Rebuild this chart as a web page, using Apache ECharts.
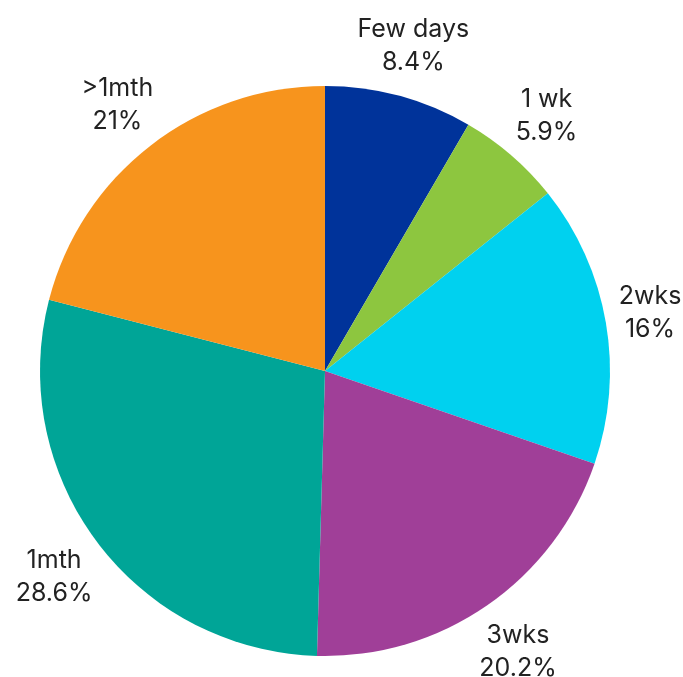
<!DOCTYPE html>
<html>
<head>
<meta charset="utf-8">
<script src="https://cdn.jsdelivr.net/npm/echarts@6/dist/echarts.min.js"></script>
<style>
  html, body { margin: 0; padding: 0; background: #ffffff; }
  #chart { width: 683px; height: 677px; }
</style>
</head>
<body>
<div id="chart"></div>
<script>
// Time taken, share of respondents
const categories = ['Few days', '1 wk', '2wks', '3wks', '1mth', '>1mth'];
const shares = [8.4, 5.9, 16, 20.2, 28.6, 21];
const colors = ['#00339a', '#8dc63f', '#00d1ef', '#a03f98', '#00a597', '#f7941d'];

const data = categories.map((name, i) => ({ name, value: shares[i] }));

const chart = echarts.init(document.getElementById('chart'), null, { renderer: 'canvas' });
chart.setOption({
  animation: false,
  backgroundColor: '#ffffff',
  series: [
    {
      type: 'pie',
      center: [325, 371],
      radius: [0, 285],
      startAngle: 90,
      clockwise: true,
      silent: true,
      label: { show: false },
      labelLine: { show: false },
      data: data.map((d, i) => ({ ...d, itemStyle: { color: colors[i] } }))
    },
    {
      // invisible ring used only to place the two-line labels around the pie
      type: 'pie',
      center: [325, 371],
      radius: [0, 672],
      startAngle: 90,
      clockwise: true,
      silent: true,
      itemStyle: { color: 'rgba(0,0,0,0)' },
      label: {
        show: true,
        position: 'inside',
        rotate: 0,
        formatter: p => p.name + '\n' + p.value + '%',
        fontFamily: 'Inter, "Noto Sans", sans-serif',
        fontSize: 25,
        lineHeight: 33,
        color: '#222222',
        align: 'center',
        offset: [0, 2]
      },
      labelLine: { show: false },
      // keep the right-hand label inside the canvas
      data: data.map(d => d.name === '2wks' ? { ...d, label: { offset: [-9, 0] } } : d)
    }
  ]
});
</script>
</body>
</html>
